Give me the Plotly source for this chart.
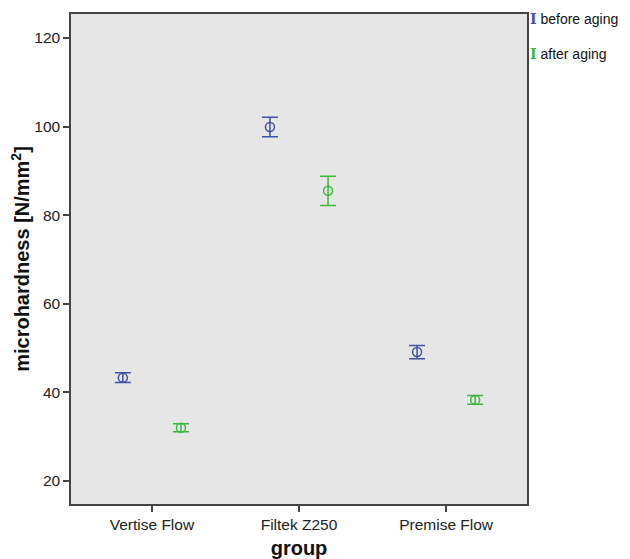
import plotly.graph_objects as go

groups = ["Vertise Flow", "Filtek Z250", "Premise Flow"]
before_mean = [43.3, 99.9, 49.1]
before_err = [1.1, 2.2, 1.5]
after_mean = [32.0, 85.5, 38.3]
after_err = [0.9, 3.3, 1.0]
y_ticks = [20, 40, 60, 80, 100, 120]

blue = "#3F51A8"
green = "#3DB83D"

fig = go.Figure()
for name, mean, err, col in [("before aging", before_mean, before_err, blue),
                             ("after aging", after_mean, after_err, green)]:
    fig.add_trace(go.Scatter(
        x=groups, y=mean, name=name, mode="markers",
        marker=dict(symbol="circle-open", size=9, color=col, line=dict(width=1.5, color=col)),
        error_y=dict(type="data", array=err, visible=True, color=col, thickness=1.5, width=8),
        showlegend=False,
    ))

for i, (label, col) in enumerate([("before aging", blue), ("after aging", green)]):
    fig.add_annotation(x=1.0, y=1.0, xref="paper", yref="paper", xanchor="left", yanchor="top",
                       xshift=1, yshift=5 - 35 * i, showarrow=False, align="left",
                       text=f"<span style='color:{col};font-family:DejaVu Serif'><b>I</b></span> {label}",
                       font=dict(family="Liberation Sans, Arial", size=14, color="#111"))

fig.update_layout(
    width=622, height=551,
    margin=dict(l=63, r=103, t=6, b=55, autoexpand=False),
    paper_bgcolor="white", plot_bgcolor="#E6E6E6",
    scattermode="group", scattergap=0.21,
    font=dict(family="Liberation Sans, Arial", size=15.5, color="#222"),
    xaxis=dict(
        type="category", range=[-0.55, 2.55], automargin=False,
        showgrid=False, zeroline=False,
        showline=True, mirror=True, linecolor="#444", linewidth=1.5,
        ticks="outside", ticklen=6, tickcolor="#444", tickwidth=1.5,
        title=dict(text="<b>group</b>", font=dict(size=20, color="#111"), standoff=22),
    ),
    yaxis=dict(
        range=[14.8, 125.4], tickvals=y_ticks, automargin=False,
        showgrid=False, zeroline=False,
        showline=True, mirror=True, linecolor="#444", linewidth=1.5,
        ticks="outside", ticklen=6, tickcolor="#444", tickwidth=1.5,
        title=dict(text="<b>microhardness [N/mm<sup>2</sup>]</b>", font=dict(size=20, color="#111"), standoff=8),
    ),
)

fig.write_html("out.html")
